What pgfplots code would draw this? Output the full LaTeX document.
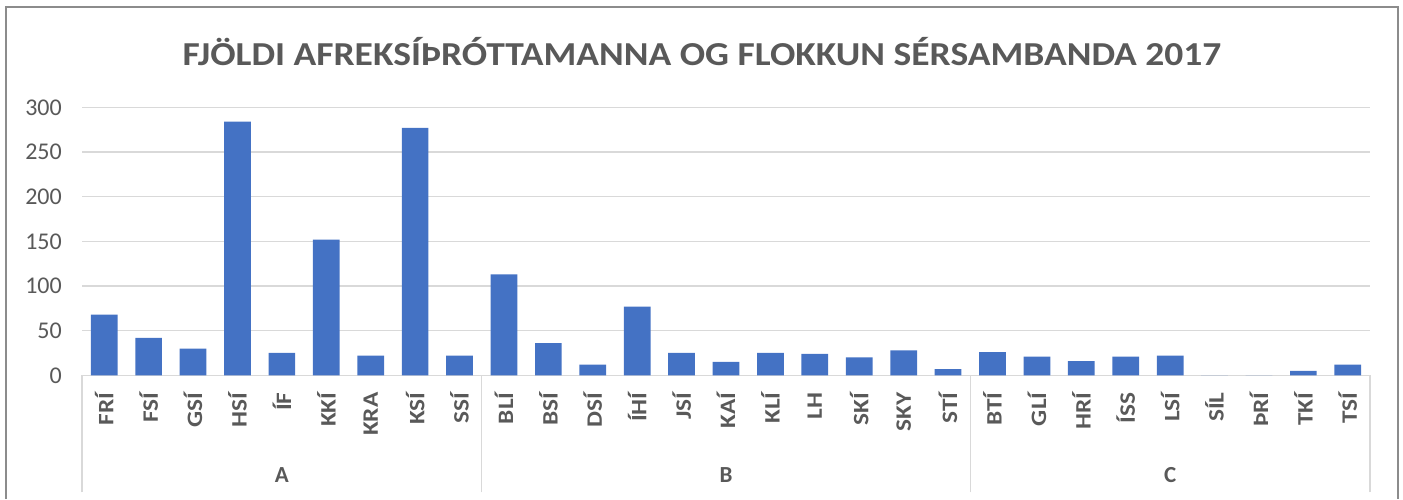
\documentclass[border=0pt]{standalone}
\usepackage{pgfplots}
\pgfplotsset{compat=1.18}
\usepackage{fontspec}
\setmainfont{Carlito}
\definecolor{barblue}{HTML}{4472C4}
\definecolor{txtgray}{HTML}{595959}
\definecolor{gridgray}{HTML}{D9D9D9}
\definecolor{framegray}{HTML}{8C8C8C}
\begin{document}
\begin{tikzpicture}[x=1pt,y=1pt]
\useasboundingbox (0,0) rectangle (1403,499);
\draw[framegray, line width=2pt] (5.5,0) -- (5.5,492) -- (1397.5,492) -- (1397.5,0);
\node[font=\fontsize{33.5}{36}\selectfont\bfseries, text=txtgray, xscale=1.12] at (702,447) {FJÖLDI AFREKSÍÞRÓTTAMANNA OG FLOKKUN SÉRSAMBANDA 2017};
\begin{axis}[
  at={(82pt,123.7pt)}, anchor=south west,
  scale only axis, width=1288pt, height=268pt,
  xmin=-0.5, xmax=28.5, ymin=0, ymax=300,
  axis lines=left, axis line style={draw=none},
  ytick={0,50,...,300},
  ymajorgrids, grid style={gridgray, line width=1.3pt},
  major tick length=0pt,
  yticklabel style={font=\fontsize{24}{26}\selectfont, text=txtgray, inner sep=0pt, anchor=east},
  yticklabel shift=20pt,
  /pgf/number format/assume math mode=true,
  xtick={0,...,28},
  xticklabels={FRÍ,FSÍ,GSÍ,HSÍ,ÍF,KKÍ,KRA,KSÍ,SSÍ,BLÍ,BSÍ,DSÍ,ÍHÍ,JSÍ,KAÍ,KLÍ,LH,SKÍ,SKY,STÍ,BTÍ,GLÍ,HRÍ,ÍSS,LSÍ,SÍL,ÞRÍ,TKÍ,TSÍ},
  xticklabel style={font=\fontsize{22}{24}\selectfont\bfseries, text=txtgray, rotate=90, xscale=1.15, anchor=east, inner sep=0pt},
  xticklabel shift=17pt,
  extra x ticks={-0.5,8.5,19.5,28.5},
  extra x tick labels={},
  extra x tick style={grid=none, tick align=outside, major tick length=117pt, tick style={draw=gridgray, line width=1.3pt}},
  clip=false,
]
\addplot[ybar, bar width=26.7pt, fill=barblue, draw=none] coordinates {
(0,68) (1,42) (2,30) (3,284) (4,25) (5,152) (6,22) (7,277) (8,22)
(9,113) (10,36) (11,12) (12,77) (13,25) (14,15) (15,25) (16,24) (17,20) (18,28) (19,7)
(20,26) (21,21) (22,16) (23,21) (24,22) (25,0) (26,0) (27,5) (28,12)
};
\node[font=\fontsize{23}{25}\selectfont\bfseries, text=txtgray] at (axis cs:4,0) [yshift=-100pt] {A};
\node[font=\fontsize{23}{25}\selectfont\bfseries, text=txtgray] at (axis cs:14,0) [yshift=-100pt] {B};
\node[font=\fontsize{23}{25}\selectfont\bfseries, text=txtgray] at (axis cs:24,0) [yshift=-100pt] {C};
\end{axis}
\end{tikzpicture}
\end{document}
